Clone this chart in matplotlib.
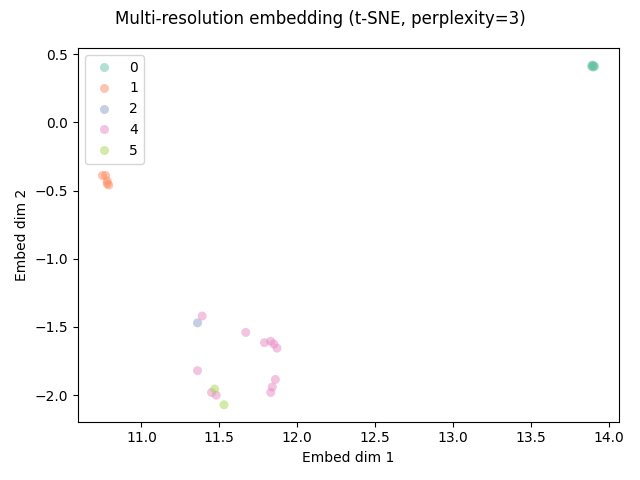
import matplotlib
matplotlib.use("Agg")
import matplotlib.pyplot as plt
import seaborn as sns
import pandas as pd

x0 = [13.89, 13.90, 13.91, 13.90, 13.895]
y0 = [0.41, 0.415, 0.41, 0.405, 0.42]
x1 = [10.75, 10.77, 10.78, 10.79, 10.78]
y1 = [-0.39, -0.39, -0.43, -0.46, -0.45]
x2 = [11.36]
y2 = [-1.47]
x4 = [11.39, 11.67, 11.79, 11.83, 11.85, 11.87, 11.36, 11.86, 11.84, 11.83, 11.45, 11.48]
y4 = [-1.42, -1.54, -1.615, -1.605, -1.625, -1.655, -1.82, -1.885, -1.94, -1.98, -1.98, -2.0]
x5 = [11.47, 11.53]
y5 = [-1.955, -2.07]

xs = x0 + x1 + x2 + x4 + x5
ys = y0 + y1 + y2 + y4 + y5
labels = [0]*len(x0) + [1]*len(x1) + [2]*len(x2) + [4]*len(x4) + [5]*len(x5)
df = pd.DataFrame({"x": xs, "y": ys, "label": labels})

fig, ax = plt.subplots(figsize=(6.4, 4.8), dpi=100)
sns.scatterplot(data=df, x="x", y="y", hue="label", palette="Set2", alpha=0.5,
                s=42, linewidth=0, ax=ax)
ax.legend(loc="upper left")
ax.set_xlabel("Embed dim 1")
ax.set_ylabel("Embed dim 2")
fig.suptitle("Multi-resolution embedding (t-SNE, perplexity=3)")
fig.tight_layout()
fig.savefig("out.png")
